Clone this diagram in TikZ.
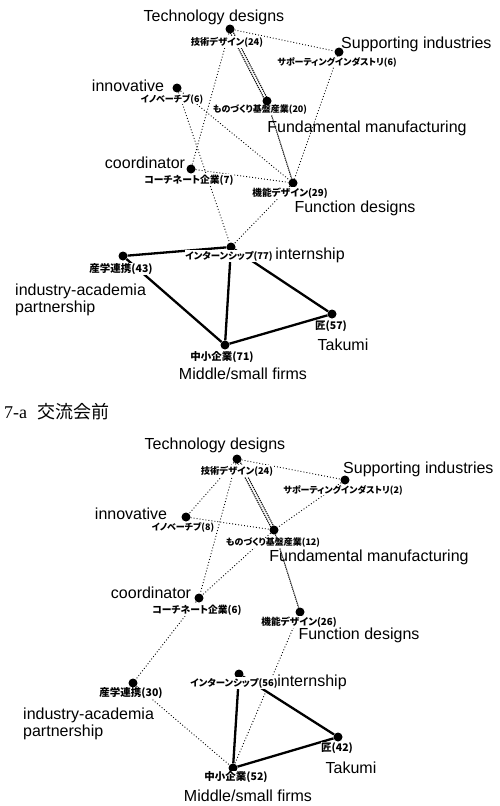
\documentclass[tikz,border=0pt]{standalone}
\usepackage{fontspec}
\setmainfont{Liberation Serif}
\newfontfamily\enf{Liberation Sans}
\newfontfamily\jpf[RawFeature=+palt]{Noto Sans CJK JP}
\usetikzlibrary{backgrounds}
\begin{document}
\begin{tikzpicture}[x=1pt,y=-1pt,
  dotn/.style={circle,fill=black,minimum size=9pt,inner sep=0pt},
  en/.style={font=\enf\fontsize{16}{18}\selectfont,inner sep=0pt},
  jp/.style={font=\jpf\bfseries\fontsize{#1}{12}\selectfont,fill=white,inner sep=0.5pt},
  jp/.default=10.5,
  captext/.style={font=\fontsize{18}{20}\selectfont,inner sep=0pt},
  dl/.style={line width=0.9pt,dash pattern=on 0.9pt off 2.1pt},
  dd/.style={line width=1.1pt,dash pattern=on 1.2pt off 0.9pt},
  sl/.style={line width=2.3pt}]
\useasboundingbox (0,0) rectangle (499,806);
% ---------- top graph ----------
\node[dotn] (t1) at (230,29) {};
\node[dotn] (s1) at (339,52) {};
\node[dotn] (i1) at (177,88) {};
\node[dotn] (f1) at (267,101) {};
\node[dotn] (c1) at (191,169) {};
\node[dotn] (g1) at (293,183) {};
\node[dotn] (n1) at (231,247) {};
\node[dotn] (a1) at (123,256) {};
\node[dotn] (k1) at (332,314) {};
\node[dotn] (m1) at (225,345) {};

\node[jp=9.3] (jt1) at (227,42) {技術デザイン(24)};
\node[jp=9.0] (js1) at (337,62) {サポーティングインダストリ(6)};
\node[jp=9.0] (ji1) at (172,99) {イノベーチブ(6)};
\node[jp=9.0] (jf1) at (260,110) {ものづくり基盤産業(20)};
\node[jp=9.8] (jc1) at (189,180) {コーチネート企業(7)};
\node[jp=9.7] (jg1) at (290,193) {機能デザイン(29)};
\node[jp=9.4] (jn1) at (229,256) {インターンシップ(77)};
\node[jp] (ja1) at (121,269) {産学連携(43)};
\node[jp] (jk1) at (331,326) {匠(57)};
\node[jp] (jm1) at (222,357) {中小企業(71)};

\node[en] (lt1) at (214,17) {Technology designs};
\node[en,anchor=west] (ls1) at (341,44) {Supporting industries};
\node[en] (li1) at (128,86) {innovative};
\node[en] (lf1) at (367,128) {Fundamental manufacturing};
\node[en] (lc1) at (145,163) {coordinator};
\node[en] (lg1) at (355,208) {Function designs};
\node[en] (ln1) at (310,255) {internship};
\node[en,anchor=west] (la1) at (15,291) {industry-academia};
\node[en,anchor=west] (lb1) at (15,308) {partnership};
\node[en] (lk1) at (343,345) {Takumi};
\node[en] (lm1) at (243,374) {Middle/small firms};

% ---------- caption ----------
\node[captext,anchor=west] (capt) at (4,412) {7-a\hspace{0.6em}{\jpf 交流会前}};

% ---------- bottom graph ----------
\node[dotn] (t2) at (237,459) {};
\node[dotn] (s2) at (345,480) {};
\node[dotn] (i2) at (186,517) {};
\node[dotn] (f2) at (274,530) {};
\node[dotn] (c2) at (199,598) {};
\node[dotn] (g2) at (300,612) {};
\node[dotn] (n2) at (239,674) {};
\node[dotn] (a2) at (133,683) {};
\node[dotn] (k2) at (338,737) {};
\node[dotn] (m2) at (233,768) {};

\node[jp=9.3] (jt2) at (237,471) {技術デザイン(24)};
\node[jp=9.0] (js2) at (343,490) {サポーティングインダストリ(2)};
\node[jp=9.0] (ji2) at (183,527) {イノベーチブ(8)};
\node[jp=9.0] (jf2) at (273,543) {ものづくり基盤産業(12)};
\node[jp=9.8] (jc2) at (197,610) {コーチネート企業(6)};
\node[jp=9.7] (jg2) at (299,622) {機能デザイン(26)};
\node[jp=9.4] (jn2) at (234,683) {インターンシップ(56)};
\node[jp] (ja2) at (131,693) {産学連携(30)};
\node[jp] (jk2) at (337,748) {匠(42)};
\node[jp] (jm2) at (236,777) {中小企業(52)};

\node[en] (lt2) at (215,445) {Technology designs};
\node[en,anchor=west] (ls2) at (343,469) {Supporting industries};
\node[en] (li2) at (131,514) {innovative};
\node[en] (lf2) at (369,557) {Fundamental manufacturing};
\node[en] (lc2) at (151,593) {coordinator};
\node[en] (lg2) at (359,635) {Function designs};
\node[en] (ln2) at (312,682) {internship};
\node[en,anchor=west] (la2) at (23,715) {industry-academia};
\node[en,anchor=west] (lb2) at (23,732) {partnership};
\node[en] (lk2) at (351,768) {Takumi};
\node[en] (lm2) at (248,796) {Middle/small firms};

\begin{pgfonlayer}{background}
% top edges
\draw[dl] (t1) -- (s1);
\draw[dd] ([xshift=-1.6pt]t1.center) -- ([xshift=-1.6pt]f1.center);
\draw[dd] ([xshift=1.6pt]t1.center) -- ([xshift=1.6pt]f1.center);
\draw[dl] (t1) -- (c1);
\draw[dl] (s1) -- (g1);
\draw[dl] (i1) -- (g1);
\draw[dl] (i1) -- (n1);
\draw[dl] (c1) -- (g1);
\draw[dl] (g1) -- (n1);
\draw[dd] (f1) -- (g1);
\draw[sl] (a1) -- (n1);
\draw[sl] (a1) -- (m1);
\draw[sl] (n1) -- (m1);
\draw[sl] (n1) -- (k1);
\draw[sl] (k1) -- (m1);
% bottom edges
\draw[dl] (t2) -- (s2);
\draw[dd] ([xshift=-1.6pt]t2.center) -- ([xshift=-1.6pt]f2.center);
\draw[dd] ([xshift=1.6pt]t2.center) -- ([xshift=1.6pt]f2.center);
\draw[dl] (t2) -- (i2);
\draw[dl] (t2) -- (c2);
\draw[dl] (i2) -- (f2);
\draw[dl] (s2) -- (f2);
\draw[dl] (f2) -- (c2);
\draw[dd] (f2) -- (g2);
\draw[dl] (c2) -- (a2);
\draw[dl] (g2) -- (m2);
\draw[dl] (a2) -- (m2);
\draw[sl] (n2) -- (m2);
\draw[sl] (n2) -- (k2);
\draw[sl] (k2) -- (m2);
\end{pgfonlayer}
\end{tikzpicture}
\end{document}
